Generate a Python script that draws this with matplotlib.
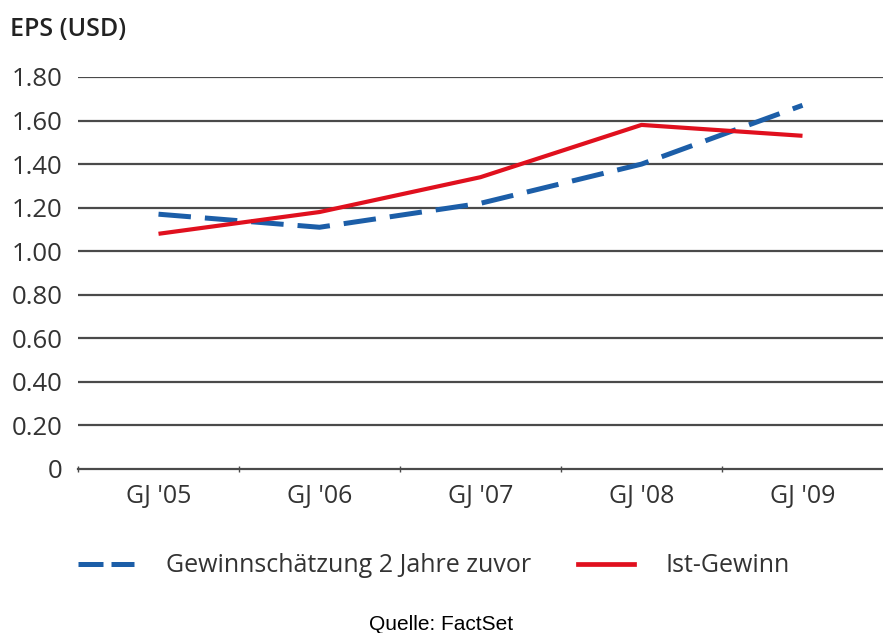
import matplotlib.pyplot as plt
import matplotlib.lines as mlines

categories = ["GJ '05", "GJ '06", "GJ '07", "GJ '08", "GJ '09"]
schaetzung = [1.17, 1.11, 1.22, 1.40, 1.67]
ist_gewinn = [1.08, 1.18, 1.34, 1.58, 1.53]
yticks = [0, 0.2, 0.4, 0.6, 0.8, 1.0, 1.2, 1.4, 1.6, 1.8]
ylabels = ["0", "0.20", "0.40", "0.60", "0.80", "1.00", "1.20", "1.40", "1.60", "1.80"]

plt.rcParams['font.family'] = ['Open Sans', 'DejaVu Sans']
blue = "#1c5ea8"
red = "#e0101e"
grid = "#4a4a4a"

fig = plt.figure(figsize=(8.83, 6.33), dpi=100)
ax = fig.add_axes([78 / 883, 1 - 469 / 633, 1 - 78 / 883, (469 - 77) / 633])

x = list(range(len(categories)))
ax.plot(x, schaetzung, color=blue, lw=3.6, dashes=(6.5, 2.8), clip_on=False,
        solid_capstyle='butt', dash_capstyle='butt')
ax.plot(x, ist_gewinn, color=red, lw=3.0, clip_on=False, solid_capstyle='butt')

ax.set_xlim(-0.5, 4.5)
ax.set_ylim(0, 1.8)
for v in yticks[1:]:
    ax.axhline(v, color=grid, lw=1.6, zorder=0)

for s in ['top', 'right', 'left']:
    ax.spines[s].set_visible(False)
ax.spines['bottom'].set_color(grid)
ax.spines['bottom'].set_linewidth(1.6)

ax.set_yticks(yticks)
ax.set_yticklabels(ylabels, fontsize=18.5, color="#333333")
ax.tick_params(axis='y', length=0, pad=11)

ax.set_xticks(x)
ax.set_xticklabels(categories, fontsize=18, color="#333333")
ax.tick_params(axis='x', length=0, pad=11)
ax.set_xticks([-0.5, 0.5, 1.5, 2.5, 3.5], minor=True)
ax.tick_params(axis='x', which='minor', direction='inout', length=5, width=1, color=grid)

fig.text(10 / 883, 1 - 29 / 633, "EPS (USD)", fontsize=18, fontweight='semibold',
         color="#222222", va='center', ha='left')

h1 = mlines.Line2D([], [], color=blue, lw=3.6, dashes=(5.0, 1.6))
h2 = mlines.Line2D([], [], color=red, lw=3.4)
fig.legend([h1, h2], ["Gewinnschätzung 2 Jahre zuvor", "Ist-Gewinn"],
           loc='center left', bbox_to_anchor=(78 / 883, 1 - 566 / 633),
           ncol=2, frameon=False, fontsize=18, handlelength=2.25,
           handletextpad=1.25, columnspacing=1.9, labelcolor="#333333",
           borderpad=0, borderaxespad=0)

fig.text(0.5, 1 - 625 / 633, "Quelle: FactSet", fontsize=15,
         family='Liberation Sans', ha='center', va='center', color="#000000")

fig.savefig("out.png", dpi=100)
